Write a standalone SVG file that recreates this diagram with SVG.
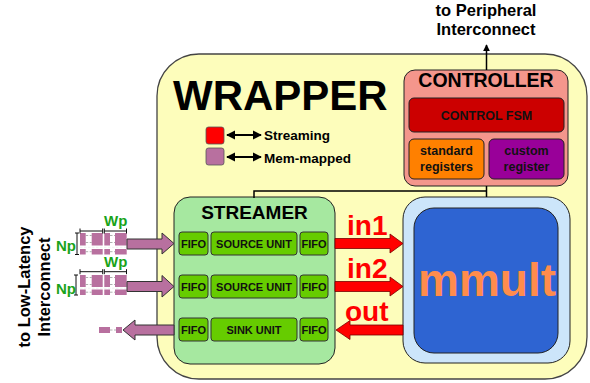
<svg xmlns="http://www.w3.org/2000/svg" width="590" height="383" viewBox="0 0 590 383">
<defs>
<style>
text{font-family:"Liberation Sans",Arial,sans-serif;font-weight:bold;}
.box{stroke:#222;stroke-width:1;}
.fifo{fill:#66cc00;stroke:#333;stroke-width:1;}
.ft{font-size:11px;text-anchor:middle;fill:#111;}
.pur{fill:#b8709f;}
.parr{fill:#b8709f;stroke:#333;stroke-width:1;}
.rarr{fill:#ff0000;stroke:#700;stroke-width:0.8;}
.dash{stroke:#999;stroke-width:0.8;stroke-dasharray:2.5,1.5;fill:none;}
.wdash{stroke:#eee;stroke-width:0.8;stroke-dasharray:2.5,1.5;fill:none;}
.brk{stroke:#111;stroke-width:1;fill:none;}
.grn{fill:#1aa31a;font-size:15px;}
.red{fill:#ff0000;font-size:28px;}
</style>
<marker id="ah" viewBox="0 0 10 10" refX="9" refY="5" markerWidth="7" markerHeight="7" orient="auto-start-reverse" markerUnits="userSpaceOnUse">
<path d="M0,0 L10,5 L0,10 z" fill="#000"/>
</marker>
<marker id="ah2" viewBox="0 0 10 10" refX="9" refY="5" markerWidth="9" markerHeight="10" orient="auto-start-reverse" markerUnits="userSpaceOnUse">
<path d="M0,0 L10,5 L0,10 z" fill="#000"/>
</marker>
</defs>

<g id="labels-outside">
<text x="486" y="16" font-size="16.5" text-anchor="middle">to Peripheral</text>
<text x="486" y="35" font-size="16.5" text-anchor="middle">Interconnect</text>
<text transform="translate(30,287) rotate(-90)" font-size="16.5" text-anchor="middle">to Low-Latency</text>
<text transform="translate(50,287) rotate(-90)" font-size="16.5" text-anchor="middle">Interconnect</text>
</g>

<g id="wrapper">
<rect x="157" y="54" width="430" height="325" rx="42" ry="42" fill="#fdfdbb" stroke="#444" stroke-width="1.3"/>
<text x="173" y="110" font-size="42">WRAPPER</text>
</g>

<g id="legend">
<rect x="206" y="127" width="18" height="17" rx="2.5" fill="#ff0000" stroke="#555" stroke-width="0.8"/>
<rect x="206" y="148" width="18" height="17" rx="2.5" fill="#b8709f" stroke="#555" stroke-width="0.8"/>
<line x1="227" y1="135" x2="261" y2="135" stroke="#000" stroke-width="2.2" marker-start="url(#ah2)" marker-end="url(#ah2)"/>
<line x1="227" y1="157" x2="261" y2="157" stroke="#000" stroke-width="2.2" marker-start="url(#ah2)" marker-end="url(#ah2)"/>
<text x="264" y="139.5" font-size="13.5">Streaming</text>
<text x="264" y="162.5" font-size="13.5">Mem-mapped</text>
</g>

<g id="controller">
<rect x="404" y="70" width="164" height="116" rx="11" fill="#f4968c" class="box"/>
<text x="486" y="87" font-size="19.5" text-anchor="middle">CONTROLLER</text>
<g id="control-fsm">
<rect x="409" y="98" width="155" height="34" rx="5" fill="#cc0000" class="box"/>
<text x="486.5" y="119.5" font-size="12.5" text-anchor="middle" fill="#111">CONTROL FSM</text>
</g>
<g id="standard-registers">
<rect x="409" y="139" width="75" height="40" rx="5" fill="#ff8000" class="box"/>
<text x="446.5" y="155" font-size="12.5" text-anchor="middle" fill="#111">standard</text>
<text x="446.5" y="170.5" font-size="12.5" text-anchor="middle" fill="#111">registers</text>
</g>
<g id="custom-register">
<rect x="489" y="139" width="75" height="40" rx="5" fill="#990099" class="box"/>
<text x="526.5" y="155" font-size="12.5" text-anchor="middle" fill="#111">custom</text>
<text x="526.5" y="170.5" font-size="12.5" text-anchor="middle" fill="#111">register</text>
</g>
</g>

<g id="streamer">
<rect x="174" y="197" width="161" height="167" rx="16" fill="#a6e8a0" stroke="#222" stroke-width="1"/>
<text x="254.5" y="219" font-size="19" text-anchor="middle">STREAMER</text>
<g id="row1">
<rect class="fifo" x="179" y="232" width="29" height="23" rx="3"/>
<rect class="fifo" x="211" y="232" width="86" height="23" rx="3"/>
<rect class="fifo" x="300" y="232" width="28" height="23" rx="3"/>
<text class="ft" x="193.5" y="247.5">FIFO</text>
<text class="ft" x="254" y="247.5" font-size="11.5">SOURCE UNIT</text>
<text class="ft" x="314" y="247.5">FIFO</text>
</g>
<g id="row2">
<rect class="fifo" x="179" y="275" width="29" height="23" rx="3"/>
<rect class="fifo" x="211" y="275" width="86" height="23" rx="3"/>
<rect class="fifo" x="300" y="275" width="28" height="23" rx="3"/>
<text class="ft" x="193.5" y="290.5">FIFO</text>
<text class="ft" x="254" y="290.5" font-size="11.5">SOURCE UNIT</text>
<text class="ft" x="314" y="290.5">FIFO</text>
</g>
<g id="row3">
<rect class="fifo" x="179" y="318" width="29" height="23" rx="3"/>
<rect class="fifo" x="211" y="318" width="86" height="23" rx="3"/>
<rect class="fifo" x="300" y="318" width="28" height="23" rx="3"/>
<text class="ft" x="193.5" y="333.5">FIFO</text>
<text class="ft" x="254" y="333.5" font-size="11.5">SINK UNIT</text>
<text class="ft" x="314" y="333.5">FIFO</text>
</g>
</g>

<g id="mmult">
<rect x="403" y="197" width="167" height="166" rx="22" fill="#cce5fa" stroke="#222" stroke-width="1"/>
<rect x="414" y="208" width="144" height="145" rx="20" fill="#2e64d2" stroke="#222" stroke-width="1"/>
<text x="487" y="296" font-size="46" text-anchor="middle" fill="#ff8c4c">mmult</text>
</g>

<g id="input1-pattern">
<rect class="pur" x="80" y="233" width="5.7" height="12.5"/>
<rect class="pur" x="91.7" y="233" width="11" height="12.5"/>
<rect class="pur" x="104.3" y="233" width="5.7" height="12.5"/>
<rect class="pur" x="115" y="233" width="11.7" height="12.5"/>
<rect class="pur" x="80" y="249" width="5.7" height="5.5"/>
<rect class="pur" x="91.7" y="249" width="11" height="5.5"/>
<rect class="pur" x="104.3" y="249" width="5.7" height="5.5"/>
<rect class="pur" x="115" y="249" width="11.7" height="5.5"/>
<path class="dash" d="M85.7,235.5H91.7M110,235.5H115M85.7,242.5H91.7M110,242.5H115M85.7,251.7H91.7M110,251.7H115"/>
<path class="wdash" d="M80,247.3H126.7"/>
<path class="brk" d="M75,233H79M77,233V254.5M75,254.5H79"/>
<path class="brk" d="M80,231H102.7M80,228.5V233.5M102.7,228.5V233.5M104.3,231H126.5M104.3,228.5V233.5M126.5,228.5V233.5"/>
<text class="grn" x="56" y="250.5">Np</text>
<text class="grn" x="104" y="226">Wp</text>
</g>

<g id="input2-pattern">
<rect class="pur" x="80" y="275" width="5.7" height="12"/>
<rect class="pur" x="91.7" y="275" width="11" height="12"/>
<rect class="pur" x="104.3" y="275" width="5.7" height="12"/>
<rect class="pur" x="115" y="275" width="11.7" height="12"/>
<rect class="pur" x="80" y="289.5" width="5.7" height="5.5"/>
<rect class="pur" x="91.7" y="289.5" width="11" height="5.5"/>
<rect class="pur" x="104.3" y="289.5" width="5.7" height="5.5"/>
<rect class="pur" x="115" y="289.5" width="11.7" height="5.5"/>
<path class="dash" d="M85.7,277.5H91.7M110,277.5H115M85.7,284.5H91.7M110,284.5H115M85.7,292.2H91.7M110,292.2H115"/>
<path class="wdash" d="M80,288.2H126.7"/>
<path class="brk" d="M74,275H78M76,275V295M74,295H78"/>
<path class="brk" d="M80,271.7H102.7M80,269.2V274.2M102.7,269.2V274.2M104.3,271.7H126.5M104.3,269.2V274.2M126.5,269.2V274.2"/>
<text class="grn" x="56" y="293.5">Np</text>
<text class="grn" x="104" y="267.3">Wp</text>
</g>

<g id="output-pattern">
<rect class="pur" x="99" y="327" width="11" height="6"/>
<rect class="pur" x="116" y="327" width="6" height="6"/>
<path class="dash" d="M110,330H116"/>
</g>

<g id="connectors">
<line x1="486.5" y1="70" x2="486.5" y2="45" stroke="#000" stroke-width="1.5" marker-end="url(#ah)"/>
<path d="M486.5,186V197M254,198V191H486.5" stroke="#000" stroke-width="1.5" fill="none"/>
<path class="parr" d="M127,239H162V233L174,243.5L162,254V249H127Z"/>
<path class="parr" d="M127,281.5H162V275.5L174,286.5L162,297V291.5H127Z"/>
<path class="parr" d="M174,325H135V320L123,330L135,340V335H174Z"/>
<path class="rarr" d="M335,238.5H390V234L403,243.5L390,253V248.5H335Z"/>
<path class="rarr" d="M335,281.5H390V277L403,286.5L390,296V291.5H335Z"/>
<path class="rarr" d="M403,325H350V320.5L336,330L350,339.5V335H403Z"/>
<text class="red" x="347" y="235">in1</text>
<text class="red" x="347" y="277.5">in2</text>
<text class="red" x="345" y="320.5" font-size="29">out</text>
</g>
</svg>
